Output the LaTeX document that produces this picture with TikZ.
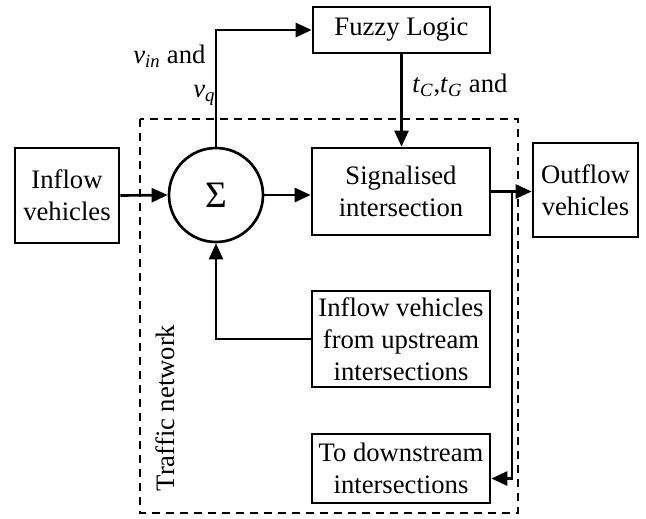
\documentclass[tikz,border=0pt]{standalone}
\usepackage{fontspec}
\setmainfont{Liberation Serif}
\usetikzlibrary{arrows.meta,calc}
\begin{document}
\begin{tikzpicture}[x=0.75pt,y=-0.75pt,
  every node/.style={font=\fontsize{20}{24}\selectfont},
  box/.style={draw,line width=2pt,inner sep=0pt,align=center},
  conn/.style={line width=2pt},
  arr/.style={conn,-{Triangle[length=12pt,width=10.5pt]}},
  lbl/.style={inner sep=0pt,anchor=base west}
]
\useasboundingbox (0,0) rectangle (646,518);
\draw[line width=2pt,dash pattern=on 6pt off 4.5pt] (140,119) rectangle (518,513);
\node[box,minimum width=132.75pt,minimum height=34.5pt] (fuzzy) at (401.5,30) {Fuzzy Logic};
\node[box,minimum width=78pt,minimum height=71.25pt] (inflow) at (67,195.5) {Inflow\\vehicles};
\node[draw,circle,line width=2pt,minimum size=70.5pt,inner sep=0pt,font=\fontsize{28}{30}\selectfont] (sum) at (216,195) {Σ};
\node[box,minimum width=133.5pt,minimum height=65.25pt] (sig) at (401,191.5) {Signalised\\intersection};
\node[box,minimum width=78.75pt,minimum height=70.5pt] (out) at (585.5,190) {Outflow\\vehicles};
\node[box,minimum width=133.5pt,minimum height=72pt] (up) at (401,339) {Inflow vehicles\\from upstream\\intersections};
\node[box,minimum width=133.5pt,minimum height=51.75pt] (down) at (401,468.5) {To downstream\\intersections};
\node[rotate=90,inner sep=0pt] (tn) at (165,408) {Traffic network};
\node[lbl] (vin) at (133,63) {\textit{v}\textsubscript{\textit{in}} and};
\node[lbl] (vq) at (193,97) {\textit{v}\textsubscript{\textit{q}}};
\node[lbl] (tc) at (412,92) {\textit{t}\textsubscript{\textit{C}},\textit{t}\textsubscript{\textit{G}} and};
\coordinate (j) at (512,191.5);
\draw[arr] (inflow.east) -- (sum.west);
\draw[arr] (sum.north) |- (fuzzy.west);
\draw[arr] (sum.east) -- (sum.east -| sig.west);
\draw[arr] (fuzzy.south) -- (fuzzy.south |- sig.north);
\draw[arr] (sig.east) -- (sig.east -| out.west);
\draw[arr] (j) |- ($(down.east)+(0,10)$);
\draw[arr] (up.west) -| (sum.south);
\end{tikzpicture}
\end{document}
